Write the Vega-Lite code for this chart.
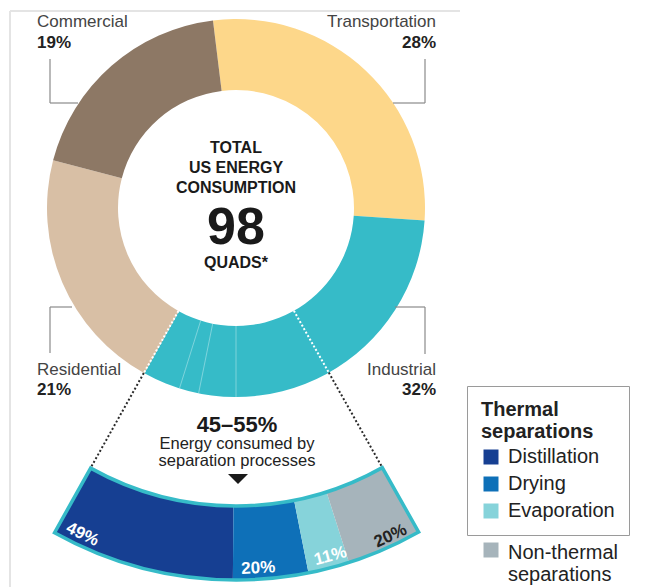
{
"$schema": "https://vega.github.io/schema/vega-lite/v6.json",
"width": 656, "height": 587, "padding": 0, "autosize": {"type": "none"},
"background": "white",
"config": {"view": {"stroke": null}, "font": "Liberation Sans", "text": {"font": "Liberation Sans"}},
"layer": [
 {"data": {"values": [{"x": -226, "y": 197, "x2": 224, "y2": 197}, {"x": -226, "y": 197, "x2": -226, "y2": -379}]},
  "mark": {"type": "rule", "stroke": "#e4e4e4", "strokeWidth": 2},
  "encoding": {
   "x": {"field": "x", "type": "quantitative", "scale": {"domain": [-236, 420], "nice": false, "zero": false}, "axis": null},
   "y": {"field": "y", "type": "quantitative", "scale": {"domain": [-379, 208], "nice": false, "zero": false}, "axis": null},
   "x2": {"field": "x2"}, "y2": {"field": "y2"}}},
 {"data": {"values": [
   {"sector": "Transportation", "pct": 28, "i": 1},
   {"sector": "Industrial", "pct": 32, "i": 2},
   {"sector": "Residential", "pct": 21, "i": 3},
   {"sector": "Commercial", "pct": 19, "i": 4}]},
  "mark": {"type": "arc", "innerRadius": 118, "outerRadius": 189},
  "encoding": {
   "x": {"datum": 0, "type": "quantitative", "scale": {"domain": [-236, 420], "nice": false, "zero": false}, "axis": null},
   "y": {"datum": 0, "type": "quantitative", "scale": {"domain": [-379, 208], "nice": false, "zero": false}, "axis": null},
   "theta": {"field": "pct", "type": "quantitative", "stack": true, "scale": {"domain": [0, 100], "range": [-0.1222, 6.161]}},
   "order": {"field": "i", "type": "quantitative"},
   "color": {"field": "sector", "type": "nominal", "legend": null,
     "scale": {"domain": ["Transportation", "Industrial", "Residential", "Commercial"], "range": ["#FDD78A", "#36BBC8", "#D8BFA5", "#8D7865"]}}}},
 {"data": {"values": [
   {"x": -35.3, "y": -112.6, "x2": -56.5, "y2": -180.3},
   {"x": -23.3, "y": -115.7, "x2": -37.4, "y2": -185.3},
   {"x": 0, "y": -118, "x2": 0, "y2": -189}]},
  "mark": {"type": "rule", "stroke": "white", "strokeOpacity": 0.45, "strokeWidth": 0.8},
  "encoding": {
   "x": {"field": "x", "type": "quantitative", "scale": {"domain": [-236, 420], "nice": false, "zero": false}, "axis": null},
   "y": {"field": "y", "type": "quantitative", "scale": {"domain": [-379, 208], "nice": false, "zero": false}, "axis": null},
   "x2": {"field": "x2"}, "y2": {"field": "y2"}}},
 {"data": {"values": [
   {"x": -57.6, "y": -103, "x2": -92.2, "y2": -165},
   {"x": 57.9, "y": -102.8, "x2": 92.8, "y2": -164.6}]},
  "mark": {"type": "rule", "stroke": "white", "strokeWidth": 2, "strokeDash": [2, 2]},
  "encoding": {
   "x": {"field": "x", "type": "quantitative", "scale": {"domain": [-236, 420], "nice": false, "zero": false}, "axis": null},
   "y": {"field": "y", "type": "quantitative", "scale": {"domain": [-379, 208], "nice": false, "zero": false}, "axis": null},
   "x2": {"field": "x2"}, "y2": {"field": "y2"}}},
 {"data": {"values": [
   {"x": -92.2, "y": -165, "x2": -145.4, "y2": -260},
   {"x": 92.8, "y": -164.6, "x2": 146.3, "y2": -259.5}]},
  "mark": {"type": "rule", "stroke": "#2a2a2a", "strokeWidth": 2, "strokeDash": [2, 2.2]},
  "encoding": {
   "x": {"field": "x", "type": "quantitative", "scale": {"domain": [-236, 420], "nice": false, "zero": false}, "axis": null},
   "y": {"field": "y", "type": "quantitative", "scale": {"domain": [-379, 208], "nice": false, "zero": false}, "axis": null},
   "x2": {"field": "x2"}, "y2": {"field": "y2"}}},
 {"data": {"values": [
   {"x": -186, "y": 149, "x2": -186, "y2": 105}, {"x": -186, "y": 105, "x2": -158, "y2": 105},
   {"x": 189, "y": 149, "x2": 189, "y2": 105}, {"x": 157, "y": 105, "x2": 189, "y2": 105},
   {"x": -186, "y": -99, "x2": -186, "y2": -145}, {"x": -186, "y": -99, "x2": -164, "y2": -99},
   {"x": 189, "y": -99, "x2": 189, "y2": -146}, {"x": 159, "y": -99, "x2": 189, "y2": -99}]},
  "mark": {"type": "rule", "stroke": "#8a8a8a", "strokeWidth": 1.2},
  "encoding": {
   "x": {"field": "x", "type": "quantitative", "scale": {"domain": [-236, 420], "nice": false, "zero": false}, "axis": null},
   "y": {"field": "y", "type": "quantitative", "scale": {"domain": [-379, 208], "nice": false, "zero": false}, "axis": null},
   "x2": {"field": "x2"}, "y2": {"field": "y2"}}},
 {"data": {"values": [{"t": "Commercial", "x": -199, "y": 181}, {"t": "Residential", "x": -199, "y": -167}]},
  "mark": {"type": "text", "align": "left", "baseline": "alphabetic", "fontSize": 17, "color": "#444"},
  "encoding": {
   "x": {"field": "x", "type": "quantitative", "scale": {"domain": [-236, 420], "nice": false, "zero": false}, "axis": null},
   "y": {"field": "y", "type": "quantitative", "scale": {"domain": [-379, 208], "nice": false, "zero": false}, "axis": null},
   "text": {"field": "t"}}},
 {"data": {"values": [{"t": "Transportation", "x": 200, "y": 181}, {"t": "Industrial", "x": 200, "y": -167}]},
  "mark": {"type": "text", "align": "right", "baseline": "alphabetic", "fontSize": 17, "color": "#444"},
  "encoding": {
   "x": {"field": "x", "type": "quantitative", "scale": {"domain": [-236, 420], "nice": false, "zero": false}, "axis": null},
   "y": {"field": "y", "type": "quantitative", "scale": {"domain": [-379, 208], "nice": false, "zero": false}, "axis": null},
   "text": {"field": "t"}}},
 {"data": {"values": [{"t": "19%", "x": -199, "y": 160}, {"t": "21%", "x": -199, "y": -187}]},
  "mark": {"type": "text", "align": "left", "baseline": "alphabetic", "fontSize": 17, "fontWeight": "bold", "color": "#222"},
  "encoding": {
   "x": {"field": "x", "type": "quantitative", "scale": {"domain": [-236, 420], "nice": false, "zero": false}, "axis": null},
   "y": {"field": "y", "type": "quantitative", "scale": {"domain": [-379, 208], "nice": false, "zero": false}, "axis": null},
   "text": {"field": "t"}}},
 {"data": {"values": [{"t": "28%", "x": 200, "y": 160}, {"t": "32%", "x": 200, "y": -187}]},
  "mark": {"type": "text", "align": "right", "baseline": "alphabetic", "fontSize": 17, "fontWeight": "bold", "color": "#222"},
  "encoding": {
   "x": {"field": "x", "type": "quantitative", "scale": {"domain": [-236, 420], "nice": false, "zero": false}, "axis": null},
   "y": {"field": "y", "type": "quantitative", "scale": {"domain": [-379, 208], "nice": false, "zero": false}, "axis": null},
   "text": {"field": "t"}}},
 {"data": {"values": [{"t": "TOTAL", "x": 0, "y": 55}, {"t": "US ENERGY", "x": 0, "y": 35}, {"t": "CONSUMPTION", "x": 0, "y": 15}, {"t": "QUADS*", "x": 0, "y": -60}]},
  "mark": {"type": "text", "align": "center", "baseline": "alphabetic", "fontSize": 16, "fontWeight": "bold", "color": "#1a1a1a"},
  "encoding": {
   "x": {"field": "x", "type": "quantitative", "scale": {"domain": [-236, 420], "nice": false, "zero": false}, "axis": null},
   "y": {"field": "y", "type": "quantitative", "scale": {"domain": [-379, 208], "nice": false, "zero": false}, "axis": null},
   "text": {"field": "t"}}},
 {"data": {"values": [{"t": "98", "x": 0, "y": -36}]},
  "mark": {"type": "text", "align": "center", "baseline": "alphabetic", "font": "Liberation Sans", "fontSize": 52, "fontWeight": "bold", "color": "#1a1a1a"},
  "encoding": {
   "x": {"field": "x", "type": "quantitative", "scale": {"domain": [-236, 420], "nice": false, "zero": false}, "axis": null},
   "y": {"field": "y", "type": "quantitative", "scale": {"domain": [-379, 208], "nice": false, "zero": false}, "axis": null},
   "text": {"field": "t"}}},
 {"data": {"values": [{"t": "45–55%", "x": 1, "y": -223.7}]},
  "mark": {"type": "text", "align": "center", "baseline": "alphabetic", "fontSize": 22, "fontWeight": "bold", "color": "#1a1a1a"},
  "encoding": {
   "x": {"field": "x", "type": "quantitative", "scale": {"domain": [-236, 420], "nice": false, "zero": false}, "axis": null},
   "y": {"field": "y", "type": "quantitative", "scale": {"domain": [-379, 208], "nice": false, "zero": false}, "axis": null},
   "text": {"field": "t"}}},
 {"data": {"values": [{"t": "Energy consumed by", "x": 1, "y": -241.3}, {"t": "separation processes", "x": 1, "y": -258}]},
  "mark": {"type": "text", "align": "center", "baseline": "alphabetic", "fontSize": 16.5, "color": "#222"},
  "encoding": {
   "x": {"field": "x", "type": "quantitative", "scale": {"domain": [-236, 420], "nice": false, "zero": false}, "axis": null},
   "y": {"field": "y", "type": "quantitative", "scale": {"domain": [-379, 208], "nice": false, "zero": false}, "axis": null},
   "text": {"field": "t"}}},
 {"data": {"values": [{"x": 2, "y": -271}]},
  "mark": {"type": "point", "shape": "M-1,-0.5L1,-0.5L0,0.5Z", "size": 400, "filled": true, "color": "#1a1a1a", "opacity": 1},
  "encoding": {
   "x": {"field": "x", "type": "quantitative", "scale": {"domain": [-236, 420], "nice": false, "zero": false}, "axis": null},
   "y": {"field": "y", "type": "quantitative", "scale": {"domain": [-379, 208], "nice": false, "zero": false}, "axis": null}}},
 {"data": {"values": [
   {"process": "Distillation", "share": 49, "label": "49%", "i": 1},
   {"process": "Drying", "share": 20, "label": "20%", "i": 2},
   {"process": "Evaporation", "share": 11, "label": "11%", "i": 3},
   {"process": "Non-thermal separations", "share": 20, "label": "20%", "i": 4}]},
  "transform": [{"stack": "share", "groupby": [], "sort": [{"field": "i", "order": "ascending"}], "as": ["s0", "s1"]}],
  "layer": [
   {"transform": [{"filter": "datum.process !== 'Non-thermal separations'"}],
    "mark": {"type": "arc", "innerRadius": 298, "outerRadius": 372},
    "encoding": {
     "x": {"datum": 0, "type": "quantitative", "scale": {"domain": [-236, 420], "nice": false, "zero": false}, "axis": null},
     "y": {"datum": 0, "type": "quantitative", "scale": {"domain": [-379, 208], "nice": false, "zero": false}, "axis": null},
     "theta": {"field": "s0", "type": "quantitative", "stack": null, "scale": {"domain": [0, 100], "range": [3.6512, 2.6284]}},
     "theta2": {"field": "s1"},
     "color": {"field": "process", "type": "nominal",
      "scale": {"domain": ["Distillation", "Drying", "Evaporation"], "range": ["#163F92", "#0E70B8", "#86D3DA"]},
      "legend": {"title": ["Thermal", "separations"], "orient": "none", "legendX": 467, "legendY": 386,
        "strokeColor": "#9a9a9a", "padding": 14, "titleFontSize": 20, "titleFontWeight": "bold", "titleColor": "#222",
        "titleFont": "Liberation Sans", "titleLineHeight": 22, "titlePadding": 5,
        "labelFontSize": 20, "labelFont": "Liberation Sans", "labelColor": "#222",
        "symbolType": "square", "symbolSize": 225, "symbolStrokeWidth": 0, "symbolOpacity": 1,
        "rowPadding": 7, "labelOffset": 7}}}},
   {"transform": [{"filter": "datum.process === 'Non-thermal separations'"}],
    "mark": {"type": "arc", "innerRadius": 298, "outerRadius": 372},
    "encoding": {
     "x": {"datum": 0, "type": "quantitative", "scale": {"domain": [-236, 420], "nice": false, "zero": false}, "axis": null},
     "y": {"datum": 0, "type": "quantitative", "scale": {"domain": [-379, 208], "nice": false, "zero": false}, "axis": null},
     "theta": {"field": "s0", "type": "quantitative", "stack": null, "scale": {"domain": [0, 100], "range": [3.6512, 2.6284]}},
     "theta2": {"field": "s1"},
     "fill": {"field": "process", "type": "nominal",
      "scale": {"domain": ["Non-thermal separations"], "range": ["#A6B4BB"]},
      "legend": {"title": null, "orient": "none", "legendX": 467, "legendY": 526, "padding": 14,
        "labelExpr": "['Non-thermal', 'separations']", "labelBaseline": "top",
        "labelFontSize": 20, "labelFont": "Liberation Sans", "labelColor": "#222",
        "symbolType": "square", "symbolSize": 225, "symbolStrokeWidth": 0, "symbolOpacity": 1, "labelOffset": 7,
        "encode": {"labels": {"update": {"dy": {"value": -7}}}}}}}},
   {"mark": {"type": "arc", "innerRadius": 298, "outerRadius": 372, "filled": false, "stroke": "#36BBC8", "strokeWidth": 3.5},
    "encoding": {
     "x": {"datum": 0, "type": "quantitative", "scale": {"domain": [-236, 420], "nice": false, "zero": false}, "axis": null},
     "y": {"datum": 0, "type": "quantitative", "scale": {"domain": [-379, 208], "nice": false, "zero": false}, "axis": null},
     "theta": {"aggregate": "sum", "field": "share", "type": "quantitative", "stack": true}}},
   {"transform": [{"filter": "datum.process !== 'Non-thermal separations'"}],
    "mark": {"type": "text", "radius": 361, "align": "left", "baseline": "middle", "fontSize": 17, "fontWeight": "bold", "thetaOffset": -0.023, "color": "white"},
    "encoding": {
     "x": {"datum": 0, "type": "quantitative", "scale": {"domain": [-236, 420], "nice": false, "zero": false}, "axis": null},
     "y": {"datum": 0, "type": "quantitative", "scale": {"domain": [-379, 208], "nice": false, "zero": false}, "axis": null},
     "theta": {"field": "s0", "type": "quantitative", "stack": null},
     "angle": {"field": "s0", "type": "quantitative", "scale": {"domain": [0, 100], "range": [25.5, -33]}},
     "text": {"field": "label"}}},
   {"transform": [{"filter": "datum.process === 'Non-thermal separations'"}],
    "mark": {"type": "text", "radius": 363, "align": "right", "baseline": "middle", "fontSize": 17, "fontWeight": "bold", "thetaOffset": 0.026, "angle": 335, "color": "#222"},
    "encoding": {
     "x": {"datum": 0, "type": "quantitative", "scale": {"domain": [-236, 420], "nice": false, "zero": false}, "axis": null},
     "y": {"datum": 0, "type": "quantitative", "scale": {"domain": [-379, 208], "nice": false, "zero": false}, "axis": null},
     "theta": {"field": "s1", "type": "quantitative", "stack": null},
     "text": {"field": "label"}}}
  ]}
],
"resolve": {"scale": {"theta": "independent", "color": "independent"}}
}
